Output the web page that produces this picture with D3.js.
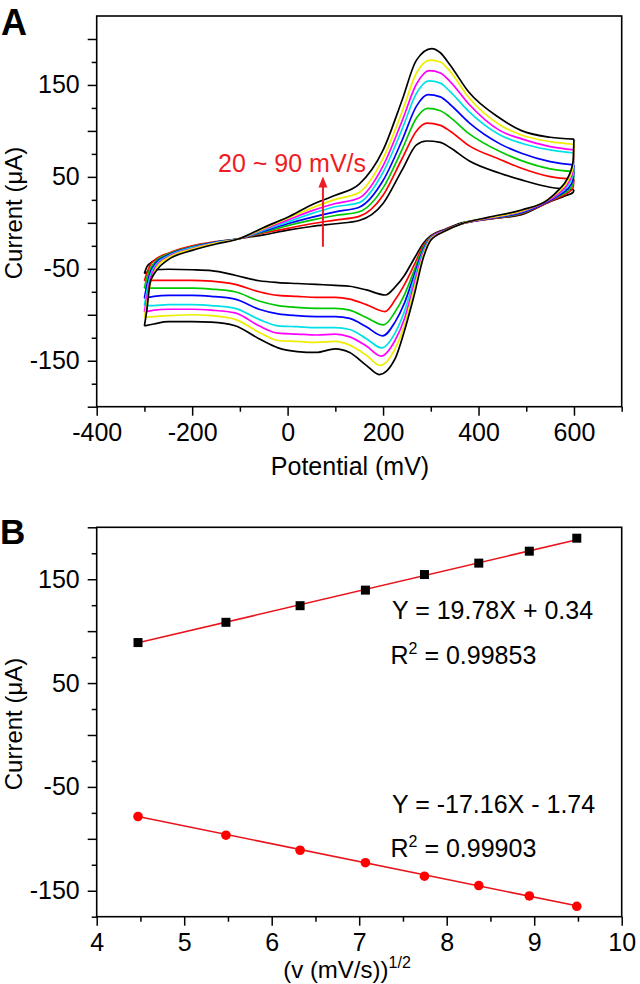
<!DOCTYPE html>
<html><head><meta charset="utf-8">
<script src="https://cdn.jsdelivr.net/npm/d3@7"></script>
<style>
body{margin:0;background:#fff}
svg{display:block}
text{font-family:"Liberation Sans",Arial,Helvetica,sans-serif;fill:#000}
</style>
</head><body>
<svg id="chart" width="640" height="984"></svg>
<script>
// ---------------- DATA ----------------
const scanRates = [20, 30, 40, 50, 60, 70, 80, 90];           // mV/s
const curveColors = ["#000000", "#ff0000", "#00c800", "#0000ff", "#00e0e8", "#ff00ff", "#eeee00", "#000000"];

// peak values (µA) and peak potentials (mV)
const anodicPeakCurrent   = [89, 108.5, 124.5, 139.5, 154.5, 165.5, 177, 189.5];
const cathodicPeakCurrent = [-78.5, -96.5, -111, -123, -136, -145, -155, -165];
const anodicPeakPotential   = [291, 292, 293, 294, 296, 297, 299, 302];
const cathodicPeakPotential = [205, 204, 201, 199, 197, 196, 194, 192];

// forward (anodic) scan potentials, peak inserted between 270 and 320
const forwardPotential = [-300, -295, -288, -275, -250, -200, -150, -100, -50, 0, 50, 100, 150, 200, 240, 270,
                          320, 340, 380, 445, 490, 550, 600];
const forward20 = [-55, -48, -44, -40, -35, -28, -22, -17, -13, -8, -4, -1, 2.5, 21, 57.6, 84.8, 87.5, 82, 67.5, 54, 46.7, 38.7, 36];
const forward30 = [-63, -55, -46, -39, -33, -25, -20.5, -17, -11, -6, -1, 3, 7, 30, 70, 100, 106, 100, 84, 69, 59.4, 50.3, 47.4];
const forward40 = [-71, -60, -50, -41, -34, -26, -21, -17, -10, -3, 3, 8, 12, 38, 80, 114, 122, 115, 97, 77.5, 67.7, 58.7, 55.7];
const forward50 = [-82, -68, -54, -43, -35, -26.5, -21, -17, -9, -1, 6, 12, 17, 46, 90, 127, 137, 129, 109, 85.9, 75.7, 66.6, 63];
const forward60 = [-90, -75, -58, -45, -36, -27, -21.5, -17, -8, 1, 10, 17.5, 22, 55, 102, 141, 152, 143, 121, 95.6, 86.6, 79.3, 76];
const forward70 = [-97, -82, -62, -47, -37, -28, -22, -17, -7, 3, 13, 21, 27, 62, 111, 151, 163, 154, 129, 100.3, 91.3, 82.9, 79.3];
const forward80 = [-103, -88, -67, -49, -38, -28.5, -22, -17, -6, 5, 16, 25.5, 33, 70, 121, 163, 175, 165, 136, 106.5, 95.6, 88.4, 85.5];
const forward90 = [-112, -95, -65, -52, -40, -30, -23, -17, -5, 6, 19.5, 30, 42, 79, 133.7, 177, 185, 172, 142, 113.8, 100.3, 93.1, 91];

// reverse (cathodic) scan potentials, peak inserted between 225 and 165
const reversePotential = [600, 598, 585, 570, 545, 490, 420, 365, 330, 300, 285, 265, 245, 225,
                          165, 130, 100, 60, 20, -20, -60, -110, -160, -200, -250, -280, -300];
const reverse20 = [36, 33, 30, 27, 22, 9, 4, 0, -7, -14, -22, -39, -57, -70, -73, -69, -68, -67, -66, -65, -63, -57, -52, -51, -50.5, -51, -55];
const reverse30 = [47.4, 38, 32, 28, 22, 10, 4, -1, -7.5, -15, -24, -46, -67, -84, -89, -83, -81, -81, -80, -79, -75, -67, -63.5, -62.5, -62.5, -62.5, -63];
const reverse40 = [55.7, 42, 34, 29.5, 23, 10.5, 4.5, -1, -8, -15.5, -26, -52, -78, -97, -103, -95, -93, -93, -92, -90, -85, -75, -72, -71, -71, -71, -71];
const reverse50 = [63, 46, 36, 30.5, 23, 11, 4.5, -1, -8, -16, -28, -57, -87, -108, -113, -104, -102, -102, -101, -99, -94, -83, -80, -79, -79, -80, -82];
const reverse60 = [76, 52, 39, 32, 24, 12, 5, -1, -8.5, -16.5, -30, -62, -96, -120, -126, -116, -114, -114, -113, -112, -105, -93, -90, -89, -89, -90, -90];
const reverse70 = [79.3, 56, 41, 33, 24, 12.5, 5, -1, -8.5, -17, -32, -67, -104, -128, -134, -124, -121, -122, -121, -120, -112, -98, -95, -94, -94, -95, -97];
const reverse80 = [85.5, 60, 44, 35, 25, 13, 5.5, -1, -9, -18, -34, -72, -111, -137, -144, -133, -129, -130, -129, -128, -119, -105, -101, -100, -101, -102, -103];
const reverse90 = [91, 66, 47, 37, 25, 14, 6, -1, -9, -19, -37, -79, -117, -148, -155, -141, -137, -141, -140, -136, -126, -112, -108, -107.5, -107.5, -110, -112];

const forwardCurrents = [forward20, forward30, forward40, forward50, forward60, forward70, forward80, forward90];
const reverseCurrents = [reverse20, reverse30, reverse40, reverse50, reverse60, reverse70, reverse80, reverse90];

// tick definitions
const aXMajor = [-400, -200, 0, 200, 400, 600];
const aXMinor = [-300, -100, 100, 300, 500, 700];
const aYMajor = [-200, -150, -100, -50, 0, 50, 100, 150, 200];
const aYMinor = [-175, -125, -75, -25, 25, 75, 125, 175];
const aYLabels = [150, 50, -50, -150];
const bXMajor = [4, 5, 6, 7, 8, 9, 10];
const bXMinor = [4.5, 5.5, 6.5, 7.5, 8.5, 9.5];
const bYMajor = [-150, -100, -50, 0, 50, 100, 150, 200];
const bYMinor = [-175, -125, -75, -25, 25, 75, 125, 175];
const bYLabels = [150, 50, -50, -150];

// fits
const anodicFit = [19.78, 0.34];     // slope, intercept
const cathodicFit = [-17.16, -1.74];

// annotation
const arrowPotential = 74;
const arrowCurrentRange = [-26, 50.3];

// ---------------- DRAW ----------------
const svg = d3.select("#chart");
const FS = 25;

const L = 96.7, R = 621.7;
const xA = d3.scaleLinear().domain([-400, 700]).range([L, R]);
const yA = d3.scaleLinear().domain([-200, 225]).range([406.7, 16]);
const xB = d3.scaleLinear().domain([4, 10]).range([L, R]);
const yB = d3.scaleLinear().domain([-175, 200]).range([916.7, 527.3]);

function drawAxes(x, y, xMaj, xMin, yMaj, yMin, yLab, xFmt) {
  const [x0, x1] = x.range(), [y0, y1] = y.range(); // y0 bottom
  const g = svg.append("g");
  g.append("rect").attr("x", x0).attr("y", y1).attr("width", x1 - x0).attr("height", y0 - y1)
    .attr("fill", "none").attr("stroke", "#000").attr("stroke-width", 1.6);
  const gx = g.append("g").attr("transform", `translate(0,${y0})`)
    .call(d3.axisBottom(x).tickValues(xMaj).tickSize(9).tickPadding(8).tickFormat(xFmt));
  const gxm = g.append("g").attr("transform", `translate(0,${y0})`)
    .call(d3.axisBottom(x).tickValues(xMin).tickSize(5).tickFormat(""));
  const gy = g.append("g").attr("transform", `translate(${x0},0)`)
    .call(d3.axisLeft(y).tickValues(yMaj).tickSize(9).tickPadding(8)
      .tickFormat(d => yLab.includes(d) ? d : ""));
  const gym = g.append("g").attr("transform", `translate(${x0},0)`)
    .call(d3.axisLeft(y).tickValues(yMin).tickSize(5).tickFormat(""));
  [gx, gxm, gy, gym].forEach(a => {
    a.select(".domain").remove();
    a.selectAll("line").attr("stroke", "#000").attr("stroke-width", 1.5);
    a.selectAll("text").attr("font-size", FS).attr("font-family", "Liberation Sans, Arial, sans-serif").attr("fill", "#000");
  });
  return g;
}

// ---- Panel A ----
drawAxes(xA, yA, aXMajor, aXMinor, aYMajor, aYMinor, aYLabels, d => d);

const lineA = d3.line().x(d => xA(d[0])).y(d => yA(d[1])).curve(d3.curveMonotoneX);
const gCurves = svg.append("g");
scanRates.forEach((v, i) => {
  const fwd = forwardPotential.map((e, k) => [e, forwardCurrents[i][k]]);
  fwd.push([anodicPeakPotential[i], anodicPeakCurrent[i]]);
  fwd.sort((a, b) => a[0] - b[0]);
  const rev = reversePotential.map((e, k) => [e, reverseCurrents[i][k]]);
  rev.push([cathodicPeakPotential[i], cathodicPeakCurrent[i]]);
  rev.sort((a, b) => a[0] - b[0]);
  [fwd, rev].forEach(br => {
    gCurves.append("path").attr("d", lineA(br)).attr("fill", "none")
      .attr("stroke", curveColors[i]).attr("stroke-width", 1.7).attr("stroke-linejoin", "round");
  });
});

// arrow + label
const ax = xA(arrowPotential);
svg.append("line").attr("x1", ax).attr("x2", ax)
  .attr("y1", yA(arrowCurrentRange[0])).attr("y2", yA(arrowCurrentRange[1]) + 8)
  .attr("stroke", "#ee1c24").attr("stroke-width", 2);
const tipY = yA(arrowCurrentRange[1]);
svg.append("path").attr("d", `M${ax},${tipY} L${ax - 4.5},${tipY + 11} L${ax + 4.5},${tipY + 11} Z`).attr("fill", "#ee1c24");
svg.append("text").attr("x", 218).attr("y", 171.7).attr("font-size", FS).style("fill", "#ee1c24").text("20 ~ 90 mV/s");

// titles A
svg.append("text").attr("transform", "translate(22,213) rotate(-90)").attr("text-anchor", "middle")
  .attr("font-size", 24).text("Current (\u03bcA)");
svg.append("text").attr("x", 350).attr("y", 474.5).attr("text-anchor", "middle").attr("font-size", FS).text("Potential (mV)");
svg.append("text").attr("x", 1).attr("y", 35).attr("font-size", 36).attr("font-weight", "bold").text("A");

// ---- Panel B ----
drawAxes(xB, yB, bXMajor, bXMinor, bYMajor, bYMinor, bYLabels, d => d);
const sqrtRate = scanRates.map(Math.sqrt);
const xEnds = d3.extent(sqrtRate);
[anodicFit, cathodicFit].forEach(f => {
  svg.append("line").attr("x1", xB(xEnds[0])).attr("x2", xB(xEnds[1]))
    .attr("y1", yB(f[0] * xEnds[0] + f[1])).attr("y2", yB(f[0] * xEnds[1] + f[1]))
    .attr("stroke", "#e8141c").attr("stroke-width", 1.6);
});
svg.append("g").selectAll("rect").data(sqrtRate).join("rect")
  .attr("x", (d) => xB(d) - 4.5).attr("y", (d, i) => yB(anodicPeakCurrent[i]) - 4.5)
  .attr("width", 9).attr("height", 9).attr("fill", "#000");
svg.append("g").selectAll("circle").data(sqrtRate).join("circle")
  .attr("cx", d => xB(d)).attr("cy", (d, i) => yB(cathodicPeakCurrent[i])).attr("r", 4.8).attr("fill", "#ff0000");

function eqText(x, y, str) {
  svg.append("text").attr("x", x).attr("y", y).attr("font-size", FS).text(str);
}
function r2Text(x, y, val) {
  const t = svg.append("text").attr("x", x).attr("y", y).attr("font-size", FS);
  t.append("tspan").text("R");
  t.append("tspan").attr("font-size", 16).attr("dy", -10).text("2");
  t.append("tspan").attr("dy", 10).text(" = " + val);
}
eqText(392, 619.3, "Y = 19.78X + 0.34");
r2Text(390.5, 664, "0.99853");
eqText(392, 813, "Y = -17.16X - 1.74");
r2Text(390.5, 857, "0.99903");

svg.append("text").attr("transform", "translate(22,724) rotate(-90)").attr("text-anchor", "middle")
  .attr("font-size", 24).text("Current (\u03bcA)");
const xt = svg.append("text").attr("x", 347).attr("y", 978).attr("text-anchor", "middle").attr("font-size", 24);
xt.append("tspan").text("(v (mV/s))");
xt.append("tspan").attr("font-size", 16).attr("dy", -10).text("1/2");
svg.append("text").attr("x", 0).attr("y", 544).attr("font-size", 35).attr("font-weight", "bold").text("B");
</script>
</body></html>
